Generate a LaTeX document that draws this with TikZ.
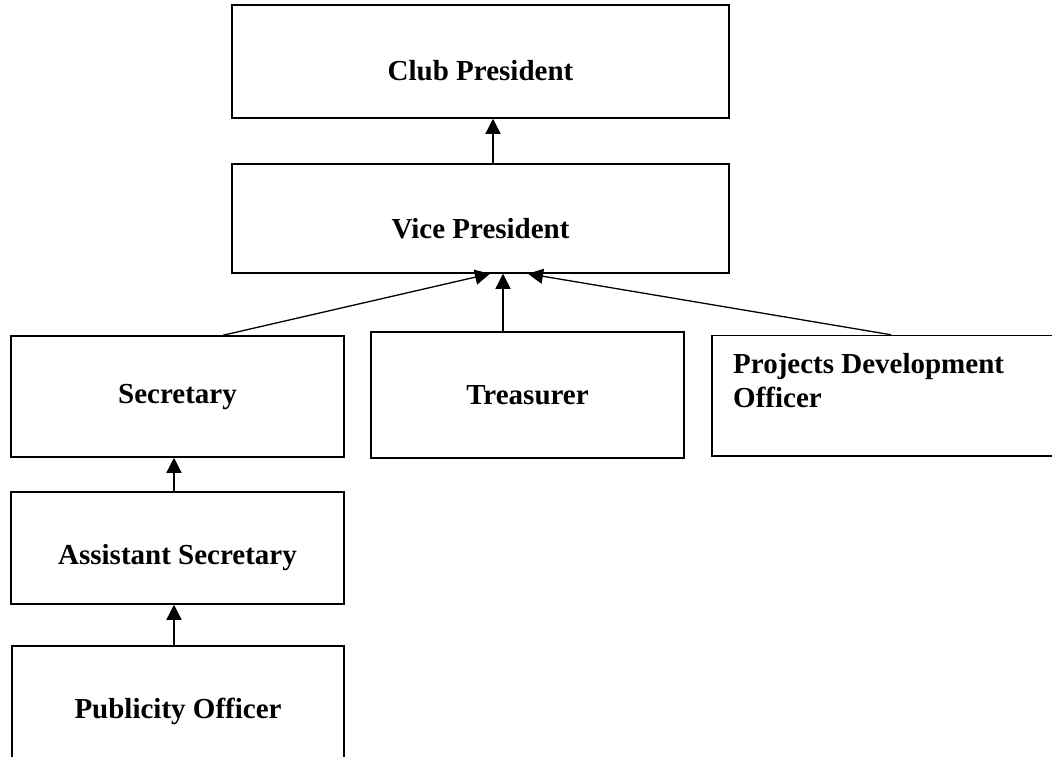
\documentclass[tikz,border=0pt]{standalone}
\usepackage{fontspec}
\setmainfont{Liberation Serif}
\usetikzlibrary{arrows.meta}
\begin{document}
\begin{tikzpicture}[x=1pt,y=-1pt,
  box/.style={draw,line width=1.5pt,rectangle,inner sep=0pt},
  lbl/.style={font=\fontsize{29}{33.5}\selectfont\bfseries,inner sep=0pt,anchor=base},
  arr/.style={line width=1.3pt,-{Triangle[length=15pt,width=15pt]}}]
\useasboundingbox (0,0) rectangle (1052,756);
% boxes
\node[box,minimum width=497pt,minimum height=113pt] (cp)  at (480.5,61.5) {};
\node[box,minimum width=497pt,minimum height=109pt] (vp)  at (480.5,218.5) {};
\node[box,minimum width=333pt,minimum height=121pt] (sec) at (177.5,396.5) {};
\node[box,minimum width=313pt,minimum height=126pt] (tr)  at (527.5,395) {};
\node[box,minimum width=358pt,minimum height=120.5pt] (pdo) at (891,395.75) {};
\node[box,minimum width=333pt,minimum height=112pt] (as)  at (177.5,548) {};
\node[box,minimum width=332pt,minimum height=134pt] (po)  at (178,713) {};
% labels
\node[lbl] (tcp) at (480.5,80) {Club President};
\node[lbl] (tvp) at (480.5,238) {Vice President};
\node[lbl] (tsec) at (177.5,403) {Secretary};
\node[lbl] (ttr) at (527.5,404) {Treasurer};
\node[lbl,anchor=base west] (tpdo1) at (733,373) {Projects Development};
\node[lbl,anchor=base west] (tpdo2) at (733,407) {Officer};
\node[lbl] (tas) at (177.5,564) {Assistant Secretary};
\node[lbl] (tpo) at (178,718) {Publicity Officer};
% connectors
\draw[arr] ([xshift=12.5pt]vp.north) -- ([xshift=12.5pt]cp.south);
\draw[arr] ([xshift=45.5pt]sec.north) -- ([xshift=9.5pt]vp.south);
\draw[arr] ([xshift=-24.5pt]tr.north) -- ([xshift=22.5pt]vp.south);
\draw[arr] (pdo.north) -- ([xshift=47.5pt]vp.south);
\draw[arr] ([xshift=-3.5pt]as.north) -- ([xshift=-3.5pt]sec.south);
\draw[arr] ([xshift=-4pt]po.north) -- ([xshift=-3.5pt]as.south);
\end{tikzpicture}
\end{document}
